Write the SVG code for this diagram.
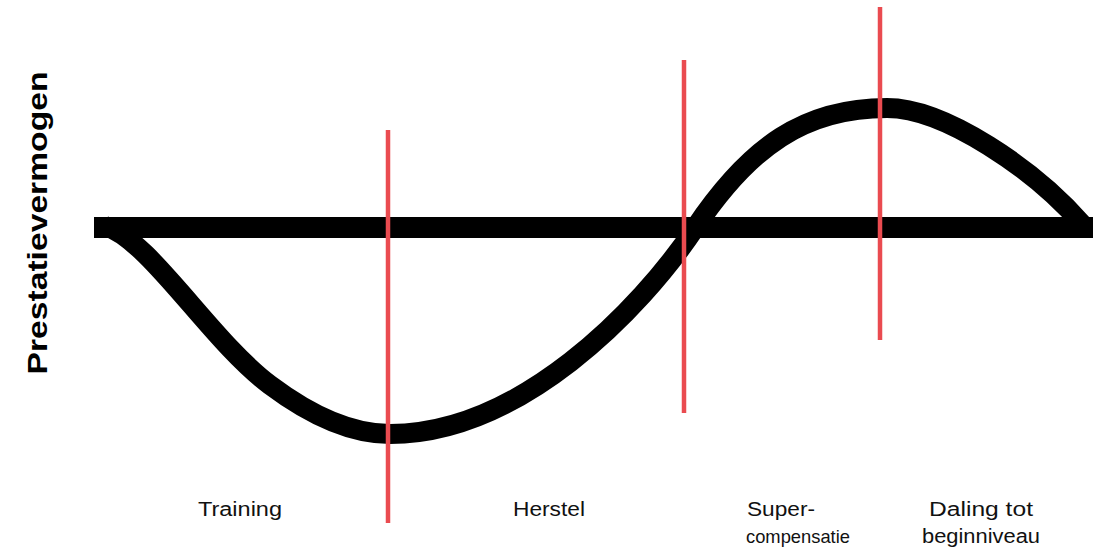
<svg xmlns="http://www.w3.org/2000/svg" width="1099" height="548" viewBox="0 0 1099 548">
  <style>
    .lbl { font-family: "Liberation Sans", Arial, sans-serif; font-size: 20px; fill: #111; }
    .axis-title { font-family: "Liberation Sans", Arial, sans-serif; font-size: 28px; font-weight: bold; fill: #000; }
    .phase { stroke: #ea4b50; stroke-width: 4.5; fill: none; }
    .curve { stroke: #000; stroke-width: 20; fill: none; stroke-linecap: butt; }
  </style>
  <rect width="1099" height="548" fill="#fff"/>

  <g id="curve">
    <path class="curve" d="M 105 226 C 150 240 210 340 270 385 C 310 415 350 434 390 434 C 520 434 640 310 695 228 C 750 146 805 108 887 108 C 945 108 1035 170 1082 224"/>
  </g>

  <g id="baseline">
    <rect x="94" y="217" width="999" height="21" fill="#000"/>
  </g>

  <g id="phase-lines">
    <line class="phase" x1="388" y1="130" x2="388" y2="523"/>
    <line class="phase" x1="684" y1="60" x2="684" y2="413"/>
    <line class="phase" x1="880" y1="7" x2="880" y2="340"/>
  </g>

  <g id="y-axis-title">
    <text class="axis-title" transform="translate(47,223) rotate(-90)" text-anchor="middle" textLength="303" lengthAdjust="spacingAndGlyphs">Prestatievermogen</text>
  </g>

  <g id="label-training">
    <text class="lbl" x="198" y="516" textLength="84" lengthAdjust="spacingAndGlyphs">Training</text>
  </g>
  <g id="label-herstel">
    <text class="lbl" x="513" y="516" textLength="72" lengthAdjust="spacingAndGlyphs">Herstel</text>
  </g>
  <g id="label-supercompensatie">
    <text class="lbl" x="747" y="516" textLength="68" lengthAdjust="spacingAndGlyphs">Super-</text>
    <text class="lbl" x="746" y="543" style="font-size:18.5px" textLength="104" lengthAdjust="spacingAndGlyphs">compensatie</text>
  </g>
  <g id="label-daling">
    <text class="lbl" x="929" y="516" textLength="104" lengthAdjust="spacingAndGlyphs">Daling tot</text>
    <text class="lbl" x="922" y="543" textLength="118" lengthAdjust="spacingAndGlyphs">beginniveau</text>
  </g>
</svg>
